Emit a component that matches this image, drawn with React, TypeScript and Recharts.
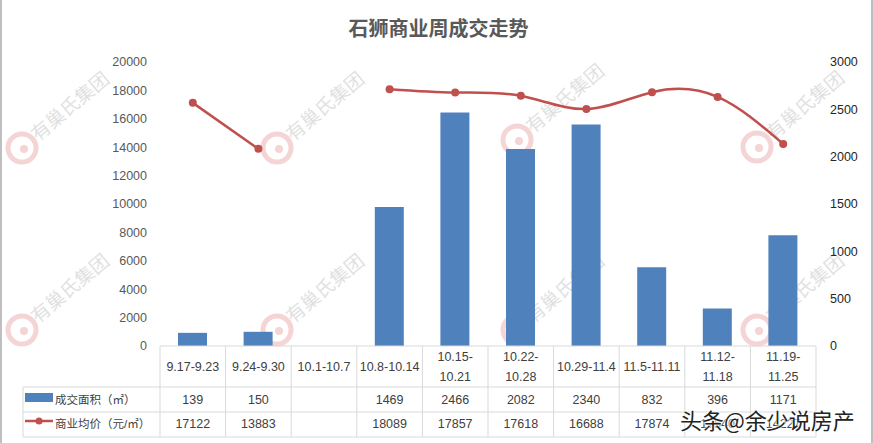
import React from 'react';
import { ComposedChart, Bar, Line, XAxis, YAxis } from 'recharts';

const categories = ['9.17-9.23', '9.24-9.30', '10.1-10.7', '10.8-10.14', '10.15-10.21', '10.22-10.28', '10.29-11.4', '11.5-11.11', '11.12-11.18', '11.19-11.25'];
const areaValues = [139, 150, null, 1469, 2466, 2082, 2340, 832, 396, 1171];
const priceValues = [17122, 13883, null, 18089, 17857, 17618, 16688, 17874, 17540, 14227];
const leftTicks = [0, 2000, 4000, 6000, 8000, 10000, 12000, 14000, 16000, 18000, 20000];
const rightTicks = [0, 500, 1000, 1500, 2000, 2500, 3000];

const data = categories.map((name, i) => ({ name, area: areaValues[i], price: priceValues[i] }));

const W = 873;
const H = 443;
const LEFT_W = 160;
const RIGHT_W = 57;
const COL_W = (W - LEFT_W - RIGHT_W) / categories.length;
const TOP = 346;
const ROW1 = 387;
const ROW2 = 412;
const BOTTOM = 437;
const LEGEND_X = 23;
const GRID = '#d9d9d9';
const BLUE = '#4F81BD';
const RED = '#C0504D';
const TXT = '#404040';

const TableTick = (props: any) => {
  const { x, index, payload } = props;
  const label: string = payload.value;
  const left = x - COL_W / 2;
  const right = x + COL_W / 2;
  const cut = label.indexOf('-') + 1;
  const lines = label.length > 10 ? [label.slice(0, cut), label.slice(cut)] : [label];
  const a = areaValues[index];
  const p = priceValues[index];
  return (
    <g fontSize={12.5} fill={TXT}>
      {index === 0 && (
        <g>
          <line x1={LEGEND_X} y1={ROW1} x2={W - RIGHT_W} y2={ROW1} stroke={GRID} />
          <line x1={LEGEND_X} y1={ROW2} x2={W - RIGHT_W} y2={ROW2} stroke={GRID} />
          <line x1={LEGEND_X} y1={BOTTOM} x2={W - RIGHT_W} y2={BOTTOM} stroke={GRID} />
          <line x1={LEGEND_X} y1={ROW1} x2={LEGEND_X} y2={BOTTOM} stroke={GRID} />
          <line x1={left} y1={TOP} x2={left} y2={BOTTOM} stroke={GRID} />
          <rect x={25} y={393} width={28} height={9} fill={BLUE} />
          <text x={55} y={400} dominantBaseline="central" fontSize={11.5} fill={TXT}>成交面积（㎡）</text>
          <line x1={25} y1={421} x2={53} y2={421} stroke={RED} strokeWidth={2.5} />
          <circle cx={39} cy={421} r={3.5} fill={RED} />
          <text x={55} y={424} dominantBaseline="central" fontSize={11.5} fill={TXT}>商业均价（元/㎡）</text>
        </g>
      )}
      <line x1={right} y1={TOP} x2={right} y2={BOTTOM} stroke={GRID} />
      {lines.map((t, i) => (
        <text key={i} x={x} y={lines.length === 1 ? 367 : 357 + i * 20} textAnchor="middle" dominantBaseline="central">
          {t}
        </text>
      ))}
      <text x={x} y={400} textAnchor="middle" dominantBaseline="central">{a == null ? '' : a}</text>
      <text x={x} y={424} textAnchor="middle" dominantBaseline="central">{p == null ? '' : p}</text>
    </g>
  );
};

// faint watermark logo positions
const marks = [
  [22, 148], [277, 148], [517, 140], [757, 147],
  [22, 330], [277, 330], [517, 330], [757, 330],
];

export default function App() {
  return (
    <div
      style={{
        position: 'absolute',
        left: 0,
        top: 0,
        width: W,
        height: H,
        background: '#fff',
        fontFamily: '"Liberation Sans", "Noto Sans CJK SC", sans-serif',
        borderLeft: '2px solid #bfbfbf',
        borderRight: '2px solid #bfbfbf',
        boxSizing: 'border-box',
        overflow: 'hidden',
      }}
    >
      <div
        style={{
          position: 'absolute',
          left: 0,
          width: W,
          top: 14,
          textAlign: 'center',
          fontFamily: '"Noto Sans CJK SC", sans-serif',
          fontWeight: 'bold',
          fontSize: 20,
          color: '#595959',
          lineHeight: '28px',
        }}
      >
        石狮商业周成交走势
      </div>
      <svg width={W} height={H} style={{ position: 'absolute', left: -2, top: 0, pointerEvents: 'none' }}>
        {marks.map(([mx, my], i) => (
          <g key={i} opacity={0.22}>
            <circle cx={mx} cy={my} r={14} fill="none" stroke="#d04040" strokeWidth={5} />
            <circle cx={mx + 2} cy={my + 1} r={4} fill="#d04040" />
            <text
              x={mx + 16}
              y={my - 6}
              fontSize={19}
              fill="#777"
              fontFamily='"Noto Sans CJK SC", sans-serif'
              transform={`rotate(-40 ${mx + 16} ${my - 6})`}
            >
              有巢氏集团
            </text>
          </g>
        ))}
      </svg>
      <div style={{ position: 'absolute', left: -2, top: 0 }}>
        <ComposedChart width={W} height={H} data={data} margin={{ top: 62, right: 0, left: 0, bottom: 6 }}>
          <XAxis
            dataKey="name"
            height={91}
            interval={0}
            tickLine={false}
            axisLine={{ stroke: GRID }}
            tick={<TableTick />}
          />
          <YAxis
            yAxisId="left"
            width={LEFT_W}
            domain={[0, 20000]}
            ticks={leftTicks}
            axisLine={false}
            tickLine={false}
            tickMargin={7}
            tick={{ fill: '#595959', fontSize: 12.5 }}
          />
          <YAxis
            yAxisId="right"
            orientation="right"
            width={RIGHT_W}
            domain={[0, 3000]}
            ticks={rightTicks}
            axisLine={false}
            tickLine={false}
            tickMargin={8}
            tick={{ fill: '#262626', fontSize: 12.5 }}
          />
          <Bar yAxisId="right" dataKey="area" fill={BLUE} barSize={29} isAnimationActive={false} />
          <Line
            yAxisId="left"
            dataKey="price"
            type="natural"
            stroke={RED}
            strokeWidth={2.5}
            dot={{ r: 4, fill: RED, stroke: RED, strokeWidth: 0 }}
            activeDot={false}
            connectNulls={false}
            isAnimationActive={false}
          />
        </ComposedChart>
      </div>
      <div
        style={{
          position: 'absolute',
          left: 678,
          top: 403,
          fontFamily: '"Noto Sans CJK SC", sans-serif',
          fontSize: 22,
          color: '#222',
          textShadow: '0 0 2px #fff, 0 0 2px #fff, 0 0 3px #fff',
          whiteSpace: 'nowrap',
        }}
      >
        头条@余少说房产
      </div>
    </div>
  );
}
